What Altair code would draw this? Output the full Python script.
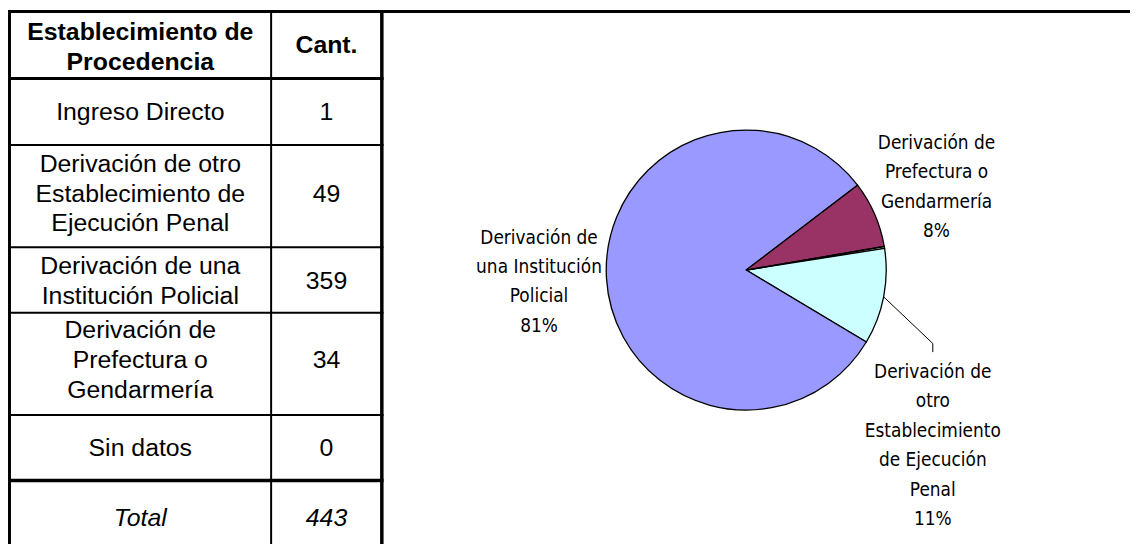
import altair as alt
import numpy as np
import pandas as pd

# ---------------- data ----------------
categories = [
    "Ingreso Directo",
    "Derivación de otro Establecimiento de Ejecución Penal",
    "Derivación de una Institución Policial",
    "Derivación de Prefectura o Gendarmería",
    "Sin datos",
]
counts = [1, 49, 359, 34, 0]
table_cells = [
    "Ingreso Directo",
    "Derivación de otro\nEstablecimiento de\nEjecución Penal",
    "Derivación de una\nInstitución Policial",
    "Derivación de\nPrefectura o\nGendarmería",
    "Sin datos",
]
pie_labels = [
    "",
    "Derivación de\notro\nEstablecimiento\nde Ejecución\nPenal",
    "Derivación de\nuna Institución\nPolicial",
    "Derivación de\nPrefectura o\nGendarmería",
    "",
]
header_cells = ["Establecimiento de\nProcedencia", "Cant."]
total_label = "Total"
slice_colors = ["#FFFFCC", "#CCFFFF", "#9999FF", "#993366", "#660066"]

total = sum(counts)

# ---------------- layout (pixels in chart space) ----------------
W, H = 1130, 538
CX, CY, R = 743.5, 262.0, 141.0
FIRST_ANGLE = 80.3  # degrees clockwise from 12 o'clock
LABEL_R = 209.0
PIE_LH = 29.6
TAB_LH = 30.0

row_edges = [1.5, 69, 136, 239, 305, 408, 474, 550]
row_text_shift = [2, 0, -2.5, 1, -4, 0, 0]
row_line_w = [3, 3, 2, 2, 2, 2, 3.5]
col_left, col_mid, col_right = 1.5, 265.0, 376.5
c1x = (col_left + col_mid) / 2
c2x = (col_mid + col_right) / 2


def first_line(center, text, lh):
    n = text.count("\n") + 1
    return center - (n - 1) * lh / 2


# ---------------- pie ----------------
pie_df = pd.DataFrame({"cat": categories, "n": counts, "idx": list(range(len(counts)))})
a0 = np.deg2rad(FIRST_ANGLE)
pie = alt.Chart(pie_df).mark_arc(stroke="black", strokeWidth=1.3, radius=R).encode(
    theta=alt.Theta("n:Q", stack=True, scale=alt.Scale(range=[a0, a0 + 2 * np.pi])),
    color=alt.Color("cat:N", scale=alt.Scale(domain=categories, range=slice_colors), legend=None),
    order=alt.Order("idx:Q"),
    x=alt.value(CX),
    y=alt.value(CY),
)

# label positions from slice mid-angles
cnt = np.array(counts, dtype=float)
start = np.cumsum(cnt) - cnt
mid = np.deg2rad(FIRST_ANGLE + (start + cnt / 2) / total * 360.0)
pct = [f"{round(100 * c / total)}%" for c in counts]

lab_rows = []
leader_rows = []
for i, lab in enumerate(pie_labels):
    if not lab:
        continue
    txt = lab + "\n" + pct[i]
    if i == 1:
        ex, ey = CX + R * np.sin(mid[i]), CY - R * np.cos(mid[i])
        bx, by = ex + 49.5, ey + 47.0
        leader_rows += [
            {"x": ex, "y": ey, "o": 0},
            {"x": bx, "y": by, "o": 1},
            {"x": bx, "y": by + 8.7, "o": 2},
        ]
        lx, ly = bx, by + 102.8
    else:
        lx, ly = CX + LABEL_R * np.sin(mid[i]), CY - LABEL_R * np.cos(mid[i])
    lab_rows.append({"x": lx, "y": first_line(ly, txt, PIE_LH), "t": txt})

lab_df = pd.DataFrame(lab_rows)
labels = alt.Chart(lab_df).mark_text(
    font="'DejaVu Sans Condensed', 'Liberation Sans', sans-serif", fontSize=19,
    lineHeight=PIE_LH, lineBreak="\n", align="center", baseline="middle", color="black",
).encode(x=alt.X("x:Q", scale=None), y=alt.Y("y:Q", scale=None), text="t:N")

leader = alt.Chart(pd.DataFrame(leader_rows)).mark_line(color="black", strokeWidth=1).encode(
    x=alt.X("x:Q", scale=None), y=alt.Y("y:Q", scale=None), order="o:Q"
)

# ---------------- table ----------------
rules = [
    {"x": 0, "x2": W, "y": row_edges[0], "y2": row_edges[0], "w": row_line_w[0]},
]
for e, w in zip(row_edges[1:7], row_line_w[1:]):
    rules.append({"x": col_left - 1.5, "x2": col_right + 1.75, "y": e, "y2": e, "w": w})
rules += [
    {"x": col_left, "x2": col_left, "y": 0, "y2": H, "w": 3},
    {"x": col_mid, "x2": col_mid, "y": row_edges[0], "y2": H, "w": 2},
    {"x": col_right, "x2": col_right, "y": 0, "y2": H, "w": 3.5},
]
grid = alt.Chart(pd.DataFrame(rules)).mark_rule(color="black").encode(
    x=alt.X("x:Q", scale=None), x2="x2:Q",
    y=alt.Y("y:Q", scale=None), y2="y2:Q",
    strokeWidth=alt.StrokeWidth("w:Q", scale=None),
)

centers = [(row_edges[k] + row_edges[k + 1]) / 2 + row_text_shift[k] for k in range(len(row_edges) - 1)]

head_rows = [
    {"x": c1x, "y": first_line(centers[0], header_cells[0], TAB_LH), "t": header_cells[0]},
    {"x": c2x, "y": first_line(centers[0] - 2, header_cells[1], TAB_LH), "t": header_cells[1]},
]
head_df = pd.DataFrame(head_rows)
body_rows = []
for k, (cell, c) in enumerate(zip(table_cells, counts)):
    body_rows.append({"x": c1x, "y": first_line(centers[k + 1], cell, TAB_LH), "t": cell})
    body_rows.append({"x": c2x, "y": centers[k + 1], "t": str(c)})
body_df = pd.DataFrame(body_rows)
tot_df = pd.DataFrame({"x": [c1x, c2x], "y": [centers[6], centers[6]], "t": [total_label, str(total)]})


def table_text(df, **kw):
    return alt.Chart(df).mark_text(
        font="Liberation Sans", lineHeight=TAB_LH, lineBreak="\n", align="center",
        baseline="middle", color="black", **kw
    ).encode(x=alt.X("x:Q", scale=None), y=alt.Y("y:Q", scale=None), text="t:N")


head = table_text(head_df, fontSize=25, fontWeight="bold")
body = table_text(body_df, fontSize=25)
tot = table_text(tot_df, fontSize=25, fontStyle="italic")

chart = alt.layer(pie, leader, labels, grid, head, body, tot).properties(
    width=W, height=H, padding=0, autosize="none", background="white"
).configure_view(stroke=None)

chart.save("out.html", embed_options={"renderer": "svg", "actions": False})
